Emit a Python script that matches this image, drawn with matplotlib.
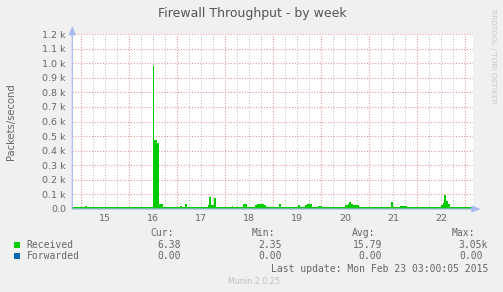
import matplotlib
matplotlib.use("Agg")
import matplotlib.pyplot as plt

W, H = 503, 292

# Received packets/s, step values (day of February, value)
recv_t = [14.8125, 15.08, 15.12, 16.485, 16.51, 16.57, 16.61, 16.70,
          17.06, 17.09, 17.17, 17.21, 17.64, 17.67, 17.71, 17.77, 17.81,
          18.14, 18.17, 18.37, 18.45, 18.62, 18.67, 18.75, 18.81, 18.85,
          19.12, 19.16, 19.52, 19.55, 19.66, 19.70, 19.77, 19.81, 19.93, 20.01,
          20.50, 20.55, 20.58, 20.62, 20.66, 20.79,
          21.45, 21.49, 21.64, 21.78,
          22.50, 22.54, 22.56, 22.60, 22.64, 22.68, 23.167]
recv_v = [13, 22, 13, 980, 470, 455, 32, 13,
          22, 13, 36, 13, 28, 85, 24, 78, 13,
          22, 13, 36, 13, 24, 34, 37, 24, 13,
          34, 13, 26, 13, 30, 37, 31, 13, 22, 13,
          24, 37, 48, 32, 24, 13,
          46, 13, 22, 13,
          27, 42, 96, 52, 32, 13, 13]
fwd_t = [14.8125, 23.167]
fwd_v = [0, 0]

days = [15, 16, 17, 18, 19, 20, 21, 22]
y_ticks = [0, 100, 200, 300, 400, 500, 600, 700, 800, 900, 1000, 1100, 1200]
y_labels = ["0.0", "0.1 k", "0.2 k", "0.3 k", "0.4 k", "0.5 k", "0.6 k",
            "0.7 k", "0.8 k", "0.9 k", "1.0 k", "1.1 k", "1.2 k"]

legend_names = ["Received", "Forwarded"]
legend_colors = ["#00CC00", "#0066B3"]
cur = ["6.38", "0.00"]
vmin = ["2.35", "0.00"]
avg = ["15.79", "0.00"]
vmax = ["3.05k", "0.00"]

FONT = "#666666"
AXIS = "#A9B8EE"


def fx(x):
    return x / W


def fy(y):
    return 1 - y / H


fig = plt.figure(figsize=(W / 100, H / 100), dpi=100, facecolor="#F0F0F0")
ax = fig.add_axes([fx(72.3), fy(209), fx(473.3) - fx(72.3), fy(34) - fy(209)])
ax.set_facecolor("white")
ax.set_xlim(14.8125, 23.167)
ax.set_ylim(0, 1200)

# grid
for d in range(15, 24):
    for h in (0.25, 0.5, 0.75):
        if d + h < 23.167:
            ax.axvline(d + h, color="#c4c4c4", lw=0.8, ls=(0, (1, 1.5)), zorder=1)
    ax.axvline(d, color="#eb9a9a", lw=0.8, ls=(0, (1, 1.5)), zorder=1)
for y in y_ticks[1:]:
    ax.axhline(y, color="#eb9a9a", lw=0.8, ls=(0, (1, 1.5)), zorder=1)

ax.fill_between(recv_t, recv_v, step="post", color="#00CC00", lw=0, zorder=2)
ax.step(fwd_t, fwd_v, where="post", color="#0066B3", lw=0.8, alpha=0.5, zorder=3)

for s in ax.spines.values():
    s.set_visible(False)

ax.set_yticks(y_ticks)
ax.set_yticklabels(y_labels)
ax.set_xticks([d + 0.5 for d in days])
ax.set_xticklabels([str(d) for d in days])
ax.tick_params(axis="y", length=0, pad=4.6, labelsize=6.8, labelcolor=FONT)
ax.tick_params(axis="x", length=0, pad=3.5, labelsize=6.8, labelcolor=FONT)

# axes with arrows
ax.annotate("", xy=(0, 1.045), xytext=(0, 0), xycoords="axes fraction",
            arrowprops=dict(arrowstyle="-|>,head_length=0.5,head_width=0.2",
                            color=AXIS, lw=0.9, shrinkA=0, shrinkB=0), zorder=5)
ax.annotate("", xy=(1.018, 0), xytext=(0, 0), xycoords="axes fraction",
            arrowprops=dict(arrowstyle="-|>,head_length=0.5,head_width=0.2",
                            color=AXIS, lw=0.9, shrinkA=0, shrinkB=0), zorder=5)

fig.text(fx(252), fy(13.5), "Firewall Throughput - by week", ha="center", va="center",
         fontsize=9, color="#555555")
fig.text(fx(11), fy(121.5), "Packets/second", rotation=90, ha="center", va="center",
         fontsize=7.2, color=FONT)
fig.text(fx(493), fy(56), "RRDTOOL / TOBI OETIKER", rotation=270, ha="center",
         va="center", fontsize=5.3, color="#c8c8c8")

mono = dict(family="DejaVu Sans Mono", fontsize=7, color=FONT, va="center")
for x, lab in zip([174, 275, 375, 475], ["Cur:", "Min:", "Avg:", "Max:"]):
    fig.text(fx(x), fy(233.3), lab, ha="right", **mono)

rows_y = [244.7, 256.3]
for i, yy in enumerate(rows_y):
    fig.patches.append(plt.Rectangle((fx(14), fy(yy + 3)), fx(6), 6 / H,
                                     transform=fig.transFigure,
                                     color=legend_colors[i], lw=0))
    fig.text(fx(26.7), fy(yy), legend_names[i], ha="left", **mono)
    fig.text(fx(181), fy(yy), cur[i], ha="right", **mono)
    fig.text(fx(282), fy(yy), vmin[i], ha="right", **mono)
    fig.text(fx(382), fy(yy), avg[i], ha="right", **mono)
    xm = 488 if vmax[i].endswith("k") else 483
    fig.text(fx(xm), fy(yy), vmax[i], ha="right", **mono)

fig.text(fx(488), fy(268.7), "Last update: Mon Feb 23 03:00:05 2015", ha="right", **mono)
fig.text(fx(253.5), fy(281.7), "Munin 2.0.25", ha="center", va="center",
         fontsize=5.8, color="#c0c0c0")

fig.savefig("out.png", dpi=100, facecolor=fig.get_facecolor())
